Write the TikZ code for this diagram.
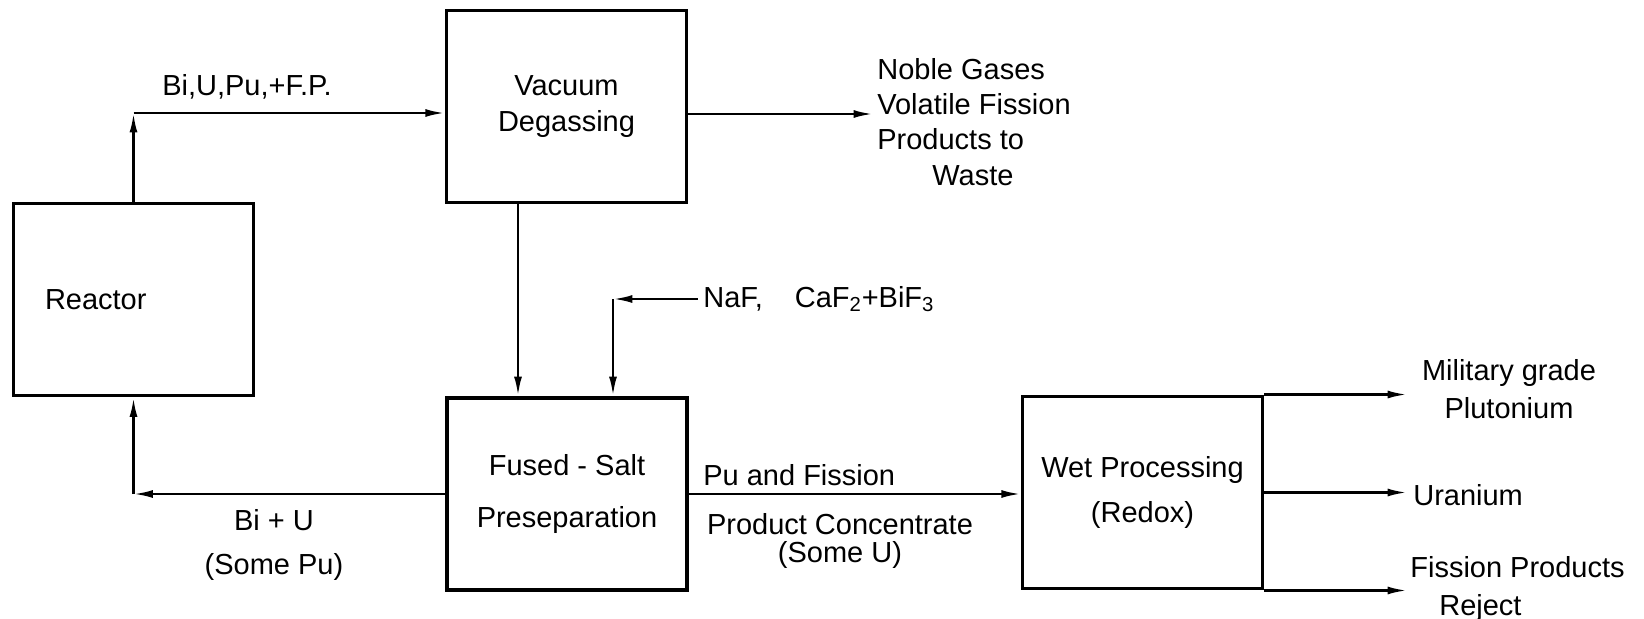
\documentclass[tikz,border=0pt]{standalone}
\usepackage{fontspec}
\setmainfont{Liberation Sans}
\usetikzlibrary{arrows.meta}

\begin{document}
\begin{tikzpicture}[
    x=0.02cm, y=-0.02cm,
    font=\fontsize{16.5}{20}\selectfont,
    unit/.style={draw, line width=2pt, minimum width=4.8cm, minimum height=3.85cm, align=center, inner sep=0pt},
    lbl/.style={inner sep=0pt, align=center},
    flow/.style={line width=1.4pt, -{Latex[length=11pt, width=4.5pt]}},
  ]
  \useasboundingbox (0,0) rectangle (1644,619);

  % process units
  \node[unit, text width=3.54cm, align=left] (reactor) at (133.5,299.5) {Reactor};
  \node[unit] (vac) at (566.5,106.5) {Vacuum\\[1pt]Degassing};
  \node[unit] (fused) at (567,494) {Fused - Salt\\[10pt]Preseparation};
  \node[unit] (wet) at (1142.5,492.5) {Wet Processing\\[5.5pt](Redox)};

  % stream labels
  \node[lbl] (feed) at (247,87) {Bi,U,Pu,+F.P.};
  \node[lbl, anchor=west, align=left] (waste) at (877,122) {Noble Gases\\Volatile Fission\\Products to\\\hspace*{1.9em}Waste};
  \node[lbl, anchor=west] (salts) at (703,299) {NaF,\hspace{1.1em}CaF\textsubscript{2}+BiF\textsubscript{3}};
  \node[lbl] (retlab) at (274,545) {Bi + U\\[5.5pt](Some Pu)};
  \node[lbl, anchor=west] (pulab) at (703,475) {Pu and Fission};
  \node[lbl] (conclab) at (840,541) {Product Concentrate\\[-4pt](Some U)};
  \node[lbl] (plut) at (1509,389) {Military grade\\[1.5pt]Plutonium};
  \node[lbl, anchor=west] (uran) at (1413,495) {Uranium};
  \node[lbl, anchor=west, align=left] (fprej) at (1410,589) {Fission Products\\[1.5pt]\hspace*{1em}Reject};

  % bends and free ends
  \coordinate (c1) at (133.5,113);
  \coordinate (wasteend) at (873,114);
  \coordinate (vacout) at ([xshift=-0.97cm]vac.south);
  \coordinate (c2) at (613,299);
  \coordinate (c3) at (reactor.south |- fused.west);
  \coordinate (endx) at (1407,0);

  % streams
  \draw[flow] (reactor.north) -- (c1);
  \draw[flow] (c1) -- (c1 -| vac.west);
  \draw[flow] (vac.east |- wasteend) -- (wasteend);
  \draw[flow] (vacout) -- (vacout |- fused.north);
  \draw[flow, shorten <=3pt] (salts.west) -- (c2);
  \draw[flow] (c2) -- (c2 |- fused.north);
  \draw[flow] (fused.west) -- (c3);
  \draw[flow] (c3) -- (reactor.south);
  \draw[flow] (fused.east) -- (fused.east -| wet.west);
  \draw[flow] (wet.north east) -- (wet.north east -| endx);
  \draw[flow] (wet.east) -- (wet.east -| endx);
  \draw[flow] (wet.south east) -- (wet.south east -| endx);
\end{tikzpicture}
\end{document}
